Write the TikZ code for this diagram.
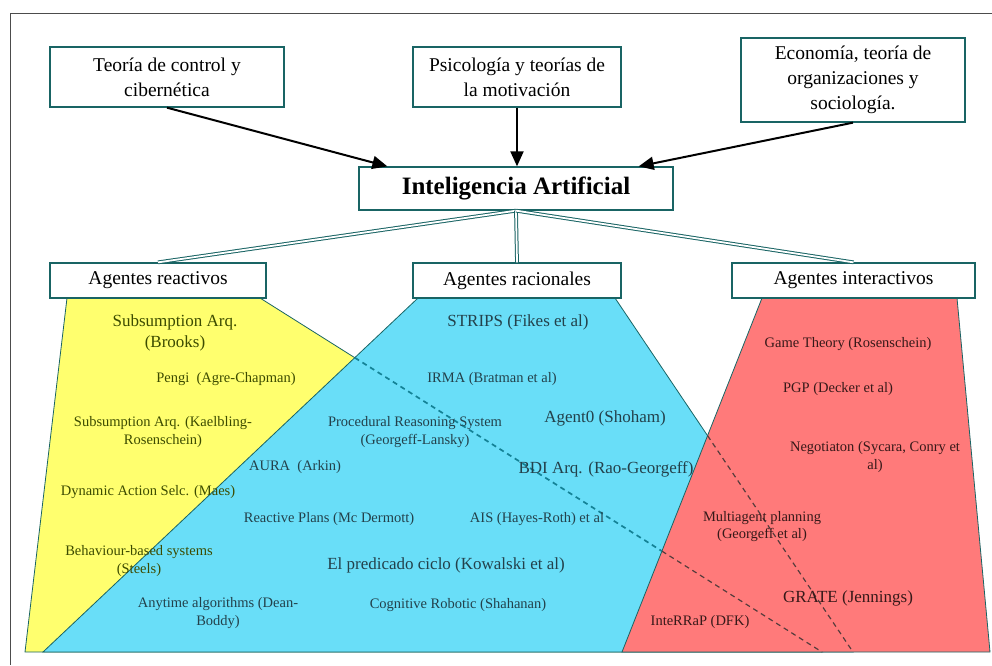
\documentclass[tikz,border=0pt]{standalone}
\usepackage{fontspec}
\setmainfont{Liberation Serif}
\usetikzlibrary{arrows.meta}
\definecolor{rim}{RGB}{25,100,100}
\definecolor{yel}{RGB}{255,255,110}
\definecolor{cya}{RGB}{105,222,248}
\definecolor{ros}{RGB}{255,122,122}
\definecolor{ytx}{RGB}{60,75,0}
\definecolor{ctx}{RGB}{35,65,75}
\definecolor{rtx}{RGB}{55,25,25}
\definecolor{dsh}{RGB}{20,130,150}
\tikzset{
  box/.style={draw=rim,line width=1.3pt,fill=white,align=center,inner sep=0pt},
  src/.style={box,font=\fontsize{19.5}{25}\selectfont},
  cat/.style={box,minimum height=35pt,font=\fontsize{19.5}{24}\selectfont},
  sml/.style={align=center,inner sep=0pt,font=\fontsize{14.5}{18.5}\selectfont},
  med/.style={align=center,inner sep=0pt,font=\fontsize{17}{21}\selectfont},
  region/.style={draw=rim,line width=.8pt},
  hidden/.style={dash pattern=on 5pt off 4pt},
  feed/.style={-{Triangle[length=15pt,width=13pt]},line width=2pt},
  branch/.style={draw=rim,double=white,double distance=1.8pt,line width=1pt}
}
\begin{document}
\begin{tikzpicture}[x=1pt,y=-1pt]
\useasboundingbox (0,0) rectangle (992,665);
\draw[black!70,line width=1pt] (992,13) -- (10,13) -- (10,665);

\coordinate (Y1) at (67,298);
\coordinate (Y2) at (260,298);
\coordinate (Y3) at (822,652);
\coordinate (Y4) at (25,652);
\coordinate (B1) at (418,298);
\coordinate (B2) at (615,298);
\coordinate (B3) at (853,652);
\coordinate (B4) at (43,652);
\coordinate (R1) at (762,298);
\coordinate (R2) at (957,298);
\coordinate (R3) at (990,652);
\coordinate (R4) at (622,652);
\coordinate (yb) at (354.8,357.7);
\coordinate (yr) at (661.9,551.1);
\coordinate (br) at (707.6,435.7);

\path[region,fill=yel] (Y1) -- (Y2) -- (Y3) -- (Y4) -- cycle;
\path[region,fill=cya] (B1) -- (B2) -- (B3) -- (B4) -- cycle;
\path[region,fill=ros] (R1) -- (R2) -- (R3) -- (R4) -- cycle;
\draw[hidden,draw=dsh,line width=1.7pt] (yb) -- (yr);
\draw[hidden,draw=rtx!85,line width=1.2pt] (yr) -- (Y3);
\draw[hidden,draw=rtx!85,line width=1.2pt] (br) -- (B3);

\node[src,minimum width=234pt,minimum height=60pt] (t1) at (167,77) {Teoría de control y\\cibernética};
\node[src,minimum width=208pt,minimum height=60pt] (t2) at (517,77) {Psicología y teorías de\\la motivación};
\node[src,minimum width=224pt,minimum height=84pt] (t3) at (853,80) {Economía, teoría de\\organizaciones y\\sociología.};
\node[box,minimum width=314pt,minimum height=43pt,font=\fontsize{25}{30}\selectfont\bfseries] (ia) at (516,188.5) {Inteligencia Artificial};
\node[cat,minimum width=216pt] (c1) at (158,280.5) {Agentes reactivos};
\node[cat,minimum width=208pt] (c2) at (517,280.5) {Agentes racionales};
\node[cat,minimum width=243pt] (c3) at (853.5,280.5) {Agentes interactivos};

\draw[feed] (t1.south) -- ([xshift=29pt]ia.north west);
\draw[feed] (t2.south) -- (t2.south |- ia.north);
\draw[feed] (t3.south) -- ([xshift=-35pt]ia.north east);
\draw[branch] (ia.south) -- (c1.north);
\draw[branch] (ia.south) -- (c2.north);
\draw[branch] (ia.south) -- (c3.north);

\node[med,text=ytx] (brooks) at (175,333) {Subsumption Arq.\\(Brooks)};
\node[sml,text=ytx] (pengi) at (226,379) {Pengi\ \ (Agre-Chapman)};
\node[sml,text=ytx] (kaelb) at (163,432) {Subsumption Arq. (Kaelbling-\\Rosenschein)};
\node[sml,text=ytx] (maes) at (148,492) {Dynamic Action Selc. (Maes)};
\node[sml,text=ytx] (steels) at (139,561) {Behaviour-based systems\\(Steels)};

\node[med,text=ctx] (strips) at (518,322) {STRIPS (Fikes et al)};
\node[sml,text=ctx] (irma) at (492,379) {IRMA (Bratman et al)};
\node[sml,text=ctx] (prs) at (415,432) {Procedural Reasoning System\\(Georgeff-Lansky)};
\node[med,text=ctx] (agent0) at (605,418) {Agent0 (Shoham)};
\node[sml,text=ctx] (aura) at (295,467) {AURA\ \ (Arkin)};
\node[med,text=ctx] (bdi) at (606,469) {BDI Arq. (Rao-Georgeff)};
\node[sml,text=ctx] (rplans) at (329,519) {Reactive Plans (Mc Dermott)};
\node[sml,text=ctx] (ais) at (537,519) {AIS (Hayes-Roth) et al};
\node[med,text=ctx] (kowal) at (446,565) {El predicado ciclo (Kowalski et al)};
\node[sml,text=ctx] (dean) at (218,613) {Anytime algorithms (Dean-\\Boddy)};
\node[sml,text=ctx] (shan) at (458,605) {Cognitive Robotic (Shahanan)};

\node[sml,text=rtx] (game) at (848,344) {Game Theory (Rosenschein)};
\node[sml,text=rtx] (pgp) at (838,389) {PGP (Decker et al)};
\node[sml,text=rtx] (negot) at (875,457) {Negotiaton (Sycara, Conry et\\al)};
\node[sml,text=rtx,font=\fontsize{14.5}{17}\selectfont] (multi) at (762,527) {Multiagent planning\\(Georgeff et al)};
\node[med,text=rtx] (grate) at (848,598) {GRATE (Jennings)};
\node[sml,text=rtx] (interrap) at (700,622) {InteRRaP (DFK)};
\end{tikzpicture}
\end{document}
